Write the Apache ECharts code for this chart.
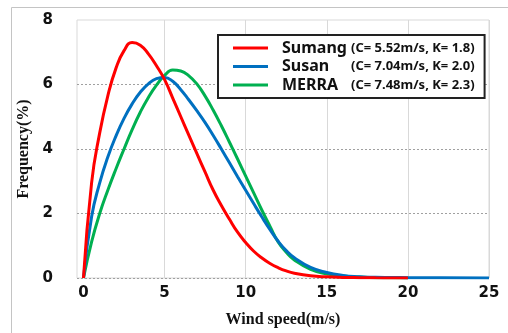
<!DOCTYPE html>
<html>
<head>
<meta charset="utf-8">
<script src="https://cdn.jsdelivr.net/npm/echarts@6/dist/echarts.min.js"></script>
<style>
html,body{margin:0;padding:0;background:#fff;}
#main{width:508px;height:333px;}
</style>
</head>
<body>
<div id="main"></div>
<script>
var windSpeed = [0,0.5,1,1.5,2,2.5,3,3.5,4,4.5,5,5.5,6,6.5,7,7.5,8,8.5,9,9.5,10,10.5,11,11.5,12,12.5,13,14,15,16,17,18,19,20,22,25];
var sumang = [0,2.95,4.5,5.65,6.5,7.05,7.3,7.22,6.95,6.58,6.15,5.58,5.0,4.42,3.85,3.28,2.72,2.25,1.82,1.42,1.1,0.83,0.62,0.45,0.32,0.22,0.15,0.07,0.035,0.018,0.01,0.005,0.002,0,null,null];
var susan = [0,1.9,2.95,3.75,4.4,4.95,5.4,5.76,6.02,6.18,6.22,6.1,5.84,5.52,5.18,4.82,4.42,4.0,3.57,3.14,2.72,2.3,1.89,1.5,1.14,0.85,0.63,0.33,0.17,0.08,0.04,0.02,0.015,0.01,0.005,0];
var merra = [0,1.12,2.0,2.72,3.38,4.0,4.6,5.14,5.6,5.98,6.28,6.45,6.42,6.27,6.01,5.64,5.2,4.72,4.21,3.69,3.16,2.63,2.1,1.6,1.12,0.8,0.56,0.27,0.13,0.06,0.03,0.01,0.005,0,null,null];
var xTicks = [0,5,10,15,20,25];
var yTicks = [0,2,4,6,8];
var seriesNames = ['Sumang','Susan','MERRA'];
var seriesParams = {'Sumang':'(C= 5.52m/s, K= 1.8)','Susan':'(C= 7.04m/s, K= 2.0)','MERRA':'(C= 7.48m/s, K= 2.3)'};
var colors = {'Sumang':'#ff0000','Susan':'#0070c0','MERRA':'#00b050'};

function pairs(ys){
  var out=[];
  for(var i=0;i<windSpeed.length;i++){ if(ys[i]!==null) out.push([windSpeed[i], ys[i]]); }
  return out;
}
var dataMap = {'Sumang':sumang,'Susan':susan,'MERRA':merra};
var drawOrder = ['MERRA','Susan','Sumang'];

var chart = echarts.init(document.getElementById('main'), null, {renderer:'canvas'});
chart.setOption({
  backgroundColor:'#fff',
  animation:false,
  graphic:[{type:'rect', shape:{x:11.5,y:7.5,width:520,height:340}, style:{fill:'none',stroke:'#c4c4c4',lineWidth:1}, silent:true}],
  grid:{left:77,right:19,top:20,bottom:55,show:true,borderColor:'#d9d9d9',borderWidth:1,backgroundColor:'transparent'},
  legend:{
    data:seriesNames,
    orient:'vertical',
    left:218, top:35,
    backgroundColor:'#fff',
    borderColor:'#222', borderWidth:2,
    padding:[5,10,5,15],
    itemGap:2.5,
    itemWidth:35, itemHeight:3,
    icon:'rect',
    formatter:function(n){ return '{a|'+n+'}{b|'+seriesParams[n]+'}'; },
    textStyle:{
      rich:{
        a:{fontFamily:'Noto Sans',fontWeight:'bold',fontSize:16,color:'#111',width:69,padding:[0,0,0,9]},
        b:{fontFamily:'Noto Sans',fontWeight:'bold',fontSize:13,color:'#111'}
      }
    }
  },
  xAxis:{
    type:'value', min:-0.4, max:25,
    name:'Wind speed(m/s)', nameLocation:'middle', nameGap:34,
    nameTextStyle:{fontFamily:'Liberation Serif',fontWeight:'bold',fontSize:16,color:'#111'},
    axisLine:{show:false},
    axisTick:{show:false, customValues:[5,10,15,20,25]},
    axisLabel:{customValues:xTicks, margin:8, fontFamily:'DejaVu Sans',fontWeight:'bold',fontSize:15,color:'#111'},
    splitLine:{show:true,lineStyle:{color:'#d9d9d9',width:1,type:'solid'}}
  },
  yAxis:{
    type:'value', min:0, max:8, interval:2,
    name:'Frequency(%)', nameLocation:'middle', nameGap:41,
    nameTextStyle:{fontFamily:'Liberation Serif',fontWeight:'bold',fontSize:16,color:'#111'},
    axisLine:{show:false},
    axisTick:{show:false, customValues:[0,2,4,6]},
    axisLabel:{customValues:yTicks, margin:24, fontFamily:'DejaVu Sans',fontWeight:'bold',fontSize:15,color:'#111'},
    splitLine:{show:true,lineStyle:{color:'#a0a0a0',width:1,type:[2,2]}}
  },
  series:drawOrder.map(function(n){
    return {name:n,type:'line',data:pairs(dataMap[n]),smooth:true,showSymbol:false,symbol:'none',
      lineStyle:{color:colors[n],width:3},itemStyle:{color:colors[n]}};
  })
});
</script>
</body>
</html>
